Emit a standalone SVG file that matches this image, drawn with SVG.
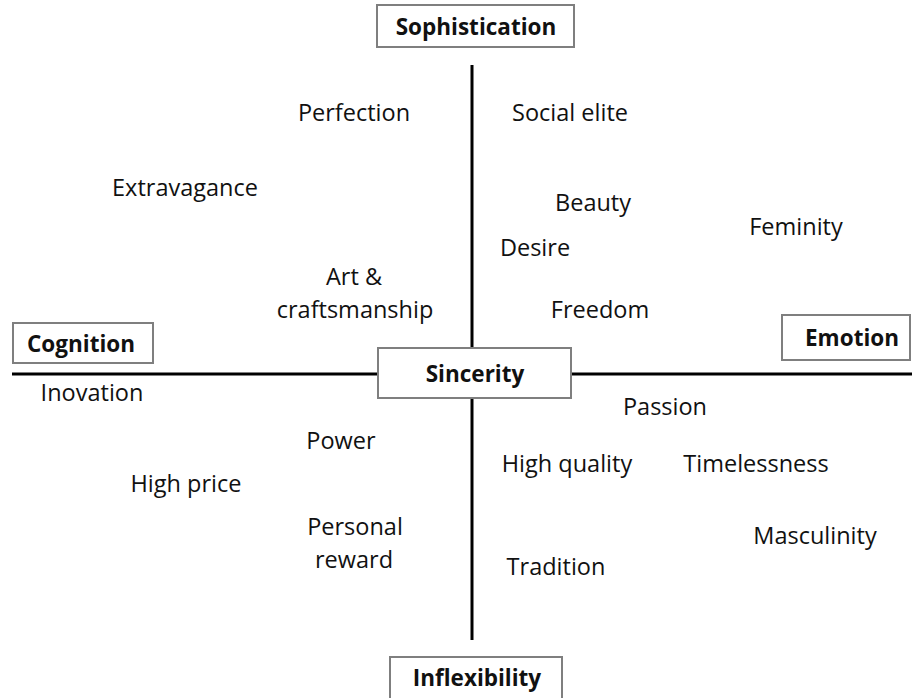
<svg xmlns="http://www.w3.org/2000/svg" width="912" height="698" viewBox="0 0 912 698">
<style>
.box{fill:#fff;stroke:#7f7f7f;stroke-width:2}
.lbl{font-family:"Open Sans","Liberation Sans",sans-serif;font-size:22.5px;font-weight:bold;fill:#111;text-anchor:middle}
.t{font-family:"Open Sans","Liberation Sans",sans-serif;font-size:23.5px;fill:#111;text-anchor:middle}
.ax{stroke:#000;stroke-width:3;fill:none}
</style>
<rect width="912" height="698" fill="#fff"/>
<g id="connectors">
<line class="ax" x1="12" y1="374" x2="378" y2="374"/>
<line class="ax" x1="571" y1="374" x2="912" y2="374"/>
<line class="ax" x1="472" y1="65" x2="472" y2="348"/>
<line class="ax" x1="472" y1="398" x2="472" y2="640"/>
</g>
<g id="sophistication"><rect class="box" x="377" y="5" width="197" height="42"/><text class="lbl" x="476" y="35">Sophistication</text></g>
<g id="cognition"><rect class="box" x="13" y="323" width="140" height="40"/><text class="lbl" x="81" y="352">Cognition</text></g>
<g id="sincerity"><rect class="box" x="378" y="348" width="193" height="50"/><text class="lbl" x="475" y="382">Sincerity</text></g>
<g id="emotion"><rect class="box" x="782" y="315" width="128" height="45"/><text class="lbl" x="852" y="346">Emotion</text></g>
<g id="inflexibility"><rect class="box" x="390" y="657" width="172" height="50"/><text class="lbl" x="477" y="686">Inflexibility</text></g>
<g id="perfection"><text class="t" x="354" y="121">Perfection</text></g>
<g id="social-elite"><text class="t" x="570" y="121">Social elite</text></g>
<g id="extravagance"><text class="t" x="185" y="196">Extravagance</text></g>
<g id="beauty"><text class="t" x="593" y="211">Beauty</text></g>
<g id="feminity"><text class="t" x="796" y="235">Feminity</text></g>
<g id="desire"><text class="t" x="535" y="256">Desire</text></g>
<g id="art"><text class="t" x="354" y="285">Art &amp;</text><text class="t" x="355" y="318">craftsmanship</text></g>
<g id="freedom"><text class="t" x="600" y="318">Freedom</text></g>
<g id="inovation"><text class="t" x="92" y="401">Inovation</text></g>
<g id="passion"><text class="t" x="665" y="415">Passion</text></g>
<g id="power"><text class="t" x="341" y="449">Power</text></g>
<g id="high-quality"><text class="t" x="567" y="472">High quality</text></g>
<g id="timelessness"><text class="t" x="756" y="472">Timelessness</text></g>
<g id="high-price"><text class="t" x="186" y="492">High price</text></g>
<g id="personal-reward"><text class="t" x="355" y="535">Personal</text><text class="t" x="354" y="568">reward</text></g>
<g id="masculinity"><text class="t" x="815" y="544">Masculinity</text></g>
<g id="tradition"><text class="t" x="556" y="575">Tradition</text></g>
</svg>
